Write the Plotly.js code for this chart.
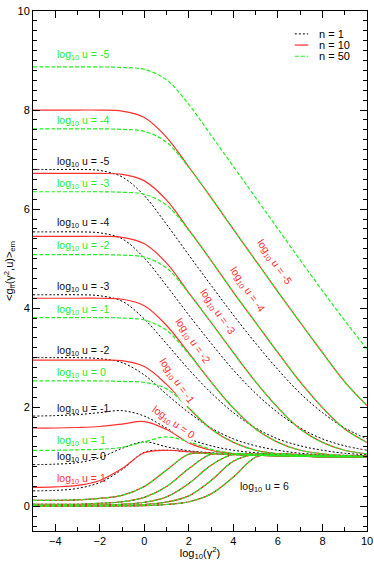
<!DOCTYPE html>
<html>
<head>
<meta charset="utf-8">
<script src="https://cdn.plot.ly/plotly-3.0.1.min.js"></script>
<style>
  html, body { margin: 0; padding: 0; background: #fff; }
  #chart { width: 374px; height: 561px; }
</style>
</head>
<body>
<div id="chart"></div>
<script>
// 橫軸 log10(γ²) 取樣點
const logGamma2 = [-5, -4, -3, -2, -1, 0, 1, 2, 3, 4, 5, 6, 7, 8, 9, 10];

// n = 1（黑色點線），log10 u = -5 ... 1
const n1_m5 = [6.80, 6.80, 6.80, 6.78, 6.65, 6.27, 5.69, 5.07, 4.46, 3.86, 3.29, 2.76, 2.28, 1.89, 1.58, 1.36];
const n1_m4 = [5.54, 5.54, 5.54, 5.52, 5.40, 5.01, 4.45, 3.86, 3.29, 2.75, 2.28, 1.89, 1.58, 1.36, 1.22, 1.13];
const n1_m3 = [4.27, 4.27, 4.27, 4.25, 4.14, 3.78, 3.28, 2.76, 2.29, 1.89, 1.58, 1.36, 1.22, 1.13, 1.07, 1.04];
const n1_m2 = [3.00, 3.00, 3.00, 2.98, 2.90, 2.65, 2.26, 1.89, 1.58, 1.36, 1.22, 1.13, 1.07, 1.04, 1.03, 1.02];
const n1_m1 = [1.82, 1.83, 1.85, 1.89, 1.93, 1.82, 1.58, 1.36, 1.22, 1.13, 1.08, 1.05, 1.03, 1.02, 1.01, 1.01];
const n1_0  = [0.84, 0.85, 0.88, 0.98, 1.17, 1.30, 1.20, 1.12, 1.08, 1.05, 1.03, 1.02, 1.01, 1.00, 1.00, 1.00];
const n1_1  = [0.31, 0.32, 0.36, 0.48, 0.74, 1.09, 1.13, 1.10, 1.07, 1.05, 1.03, 1.02, 1.01, 1.00, 1.00, 1.00];

// n = 10（紅色實線）
const n10_m5 = [8.00, 8.00, 8.00, 8.00, 7.98, 7.85, 7.45, 6.85, 6.23, 5.59, 4.96, 4.33, 3.71, 3.10, 2.51, 2.03];
const n10_m4 = [6.72, 6.72, 6.72, 6.72, 6.70, 6.57, 6.18, 5.58, 4.96, 4.32, 3.71, 3.10, 2.51, 1.99, 1.56, 1.29];
const n10_m3 = [5.45, 5.45, 5.45, 5.45, 5.43, 5.30, 4.91, 4.31, 3.71, 3.10, 2.51, 1.99, 1.56, 1.29, 1.13, 1.06];
const n10_m2 = [4.20, 4.20, 4.20, 4.20, 4.18, 4.05, 3.65, 3.09, 2.51, 1.98, 1.56, 1.29, 1.13, 1.06, 1.02, 1.01];
const n10_m1 = [2.95, 2.95, 2.95, 2.95, 2.94, 2.82, 2.46, 1.98, 1.56, 1.29, 1.13, 1.06, 1.02, 1.01, 1.00, 1.00];
const n10_0  = [1.58, 1.58, 1.59, 1.61, 1.66, 1.71, 1.55, 1.28, 1.13, 1.06, 1.03, 1.02, 1.01, 1.00, 1.00, 1.00];
const n10_1  = [0.38, 0.39, 0.42, 0.52, 0.76, 1.08, 1.13, 1.10, 1.07, 1.05, 1.03, 1.02, 1.01, 1.00, 1.00, 1.00];

// n = 50（綠色虛線）
const n50_m5 = [8.87, 8.87, 8.87, 8.87, 8.86, 8.82, 8.61, 8.11, 7.49, 6.86, 6.23, 5.60, 4.97, 4.35, 3.75, 3.17];
const n50_m4 = [7.62, 7.62, 7.62, 7.62, 7.61, 7.57, 7.35, 6.84, 6.23, 5.59, 4.96, 4.33, 3.71, 3.10, 2.51, 2.03];
const n50_m3 = [6.35, 6.35, 6.35, 6.35, 6.34, 6.30, 6.08, 5.57, 4.96, 4.32, 3.71, 3.10, 2.51, 1.99, 1.56, 1.29];
const n50_m2 = [5.08, 5.08, 5.08, 5.08, 5.07, 5.03, 4.81, 4.30, 3.71, 3.10, 2.51, 1.99, 1.56, 1.29, 1.13, 1.06];
const n50_m1 = [3.81, 3.81, 3.81, 3.81, 3.80, 3.76, 3.55, 3.07, 2.51, 1.98, 1.56, 1.29, 1.13, 1.06, 1.02, 1.01];
const n50_0  = [2.53, 2.53, 2.53, 2.53, 2.52, 2.50, 2.37, 1.98, 1.56, 1.29, 1.13, 1.06, 1.02, 1.01, 1.00, 1.00];
const n50_1  = [1.13, 1.13, 1.14, 1.15, 1.19, 1.30, 1.40, 1.30, 1.15, 1.07, 1.03, 1.02, 1.01, 1.00, 1.00, 1.00];

// log10 u = 2 ... 6：三個 n 幾乎重合
const all_2 = [0.12, 0.12, 0.13, 0.16, 0.22, 0.40, 0.73, 1.05, 1.06, 1.04, 1.03, 1.02, 1.01, 1.00, 1.00, 1.00];
const all_3 = [0.04, 0.04, 0.04, 0.06, 0.09, 0.18, 0.40, 0.76, 1.05, 1.05, 1.03, 1.02, 1.01, 1.00, 1.00, 1.00];
const all_4 = [0.015, 0.015, 0.02, 0.025, 0.04, 0.08, 0.19, 0.46, 0.83, 1.05, 1.05, 1.03, 1.02, 1.01, 1.00, 1.00];
const all_5 = [0.005, 0.005, 0.007, 0.01, 0.015, 0.035, 0.085, 0.21, 0.52, 0.91, 1.05, 1.04, 1.03, 1.02, 1.01, 1.00];
const all_6 = [0, 0, 0, 0.003, 0.006, 0.012, 0.035, 0.09, 0.25, 0.59, 0.99, 1.06, 1.04, 1.03, 1.02, 1.01];

const curvesN1  = [n1_m5, n1_m4, n1_m3, n1_m2, n1_m1, n1_0, n1_1, all_2, all_3, all_4, all_5, all_6];
const curvesN10 = [n10_m5, n10_m4, n10_m3, n10_m2, n10_m1, n10_0, n10_1, all_2, all_3, all_4, all_5, all_6];
const curvesN50 = [n50_m5, n50_m4, n50_m3, n50_m2, n50_m1, n50_0, n50_1, all_2, all_3, all_4, all_5, all_6];

// 左側標籤：文字、顏色、位置
const leftLabelU   = ['-5', '-4', '-5', '-3', '-4', '-2', '-3', '-1', '-2', '0', '-1', '1', '0', '1'];
const leftLabelN   = [50, 50, 1, 50, 1, 50, 1, 50, 1, 50, 1, 50, 1, 10];
const leftLabelY   = [9.12, 7.78, 6.96, 6.51, 5.71, 5.25, 4.43, 3.97, 3.13, 2.69, 1.97, 1.31, 0.99, 0.55];

// 紅色斜向標籤
const redLabelU     = ['-5', '-4', '-3', '-2', '-1', '0'];
const redLabelX     = [5.82, 4.63, 3.28, 2.15, 1.43, 1.33];
const redLabelY     = [4.93, 4.37, 3.92, 3.33, 2.52, 1.69];
const redLabelAngle = [55, 55, 55, 55, 55, 35];

// 圖例項目
const legendN = [1, 10, 50];

const BLACK = '#000000', RED = '#ff3030', GREEN = '#22ee22';
const lineStyle = {
  1:  { color: BLACK, width: 1, dash: '2px,2px' },
  10: { color: RED, width: 1.2 },
  50: { color: GREEN, width: 1.2, dash: '4px,2px' }
};
const labelColor = { 1: '#111111', 10: RED, 50: GREEN };

function makeTraces(curves, n) {
  return curves.map((ys) => ({
    x: logGamma2,
    y: ys,
    type: 'scatter',
    mode: 'lines',
    line: Object.assign({ shape: 'spline', smoothing: 1 }, lineStyle[n]),
    name: 'n = ' + n,
    showlegend: false,
    hoverinfo: 'skip'
  }));
}

// 先畫黑、再紅、最後綠（綠色虛線壓在上面）
const data = [].concat(
  makeTraces(curvesN1, 1),
  makeTraces(curvesN10, 10),
  makeTraces(curvesN50, 50)
);

const FONT = 'Liberation Sans, Arial, Helvetica, sans-serif';
const annotations = [];
const shapes = [];

leftLabelU.forEach((u, i) => {
  annotations.push({
    x: -4.02, y: leftLabelY[i], xref: 'x', yref: 'y',
    xanchor: 'left', yanchor: 'middle',
    text: 'log<sub>10</sub> u = ' + u,
    showarrow: false,
    font: { family: FONT, size: 10.5, color: labelColor[leftLabelN[i]] }
  });
});

redLabelU.forEach((u, i) => {
  annotations.push({
    x: redLabelX[i], y: redLabelY[i], xref: 'x', yref: 'y',
    xanchor: 'center', yanchor: 'middle',
    text: 'log<sub>10</sub> u = ' + u,
    textangle: redLabelAngle[i],
    showarrow: false,
    bgcolor: '#ffffff',
    borderpad: 0,
    font: { family: FONT, size: 10.5, color: RED }
  });
});

annotations.push({
  x: 4.22, y: 0.39, xref: 'x', yref: 'y',
  xanchor: 'left', yanchor: 'middle',
  text: 'log<sub>10</sub> u = 6',
  showarrow: false,
  font: { family: FONT, size: 10.5, color: '#111111' }
});

// 手繪圖例：短線段 + 文字（右上角）
legendN.forEach((n, i) => {
  const yy = 0.956 - i * 0.0215;
  shapes.push({
    type: 'line', xref: 'paper', yref: 'paper',
    x0: 0.784, x1: 0.824, y0: yy, y1: yy,
    line: lineStyle[n]
  });
  annotations.push({
    x: 0.85, y: yy, xref: 'paper', yref: 'paper',
    xanchor: 'left', yanchor: 'middle',
    text: 'n = ' + n,
    showarrow: false,
    font: { family: FONT, size: 11, color: '#000000' }
  });
});

const layout = {
  width: 374,
  height: 561,
  margin: { l: 33, r: 7, t: 11, b: 30 },
  paper_bgcolor: '#ffffff',
  plot_bgcolor: '#ffffff',
  font: { family: FONT, size: 11, color: '#000000' },
  showlegend: false,
  xaxis: {
    range: [-5, 10],
    tickvals: [-4, -2, 0, 2, 4, 6, 8, 10],
    ticks: 'inside', ticklen: 7, tickcolor: '#000',
    minor: { dtick: 1, tick0: 0, ticks: 'inside', ticklen: 4, tickcolor: '#000' },
    showline: true, linecolor: '#000', linewidth: 1, mirror: 'allticks',
    showgrid: false, zeroline: false,
    tickfont: { family: FONT, size: 11 },
    title: { text: 'log<sub>10</sub>(γ<sup>2</sup>)', font: { family: FONT, size: 11 }, standoff: 4 }
  },
  yaxis: {
    range: [-0.5, 10],
    tick0: 0, dtick: 2,
    ticks: 'inside', ticklen: 7, tickcolor: '#000',
    minor: { dtick: 0.2, tick0: 0, ticks: 'inside', ticklen: 4, tickcolor: '#000' },
    showline: true, linecolor: '#000', linewidth: 1, mirror: 'allticks',
    showgrid: false, zeroline: false,
    tickfont: { family: FONT, size: 11 },
    title: { text: '&lt;g<sub>ff</sub>(γ<sup>2</sup>,u)&gt;<sub>em</sub>', font: { family: FONT, size: 11 }, standoff: 1 }
  },
  shapes: shapes,
  annotations: annotations
};

Plotly.newPlot('chart', data, layout, { displayModeBar: false });
</script>
</body>
</html>
